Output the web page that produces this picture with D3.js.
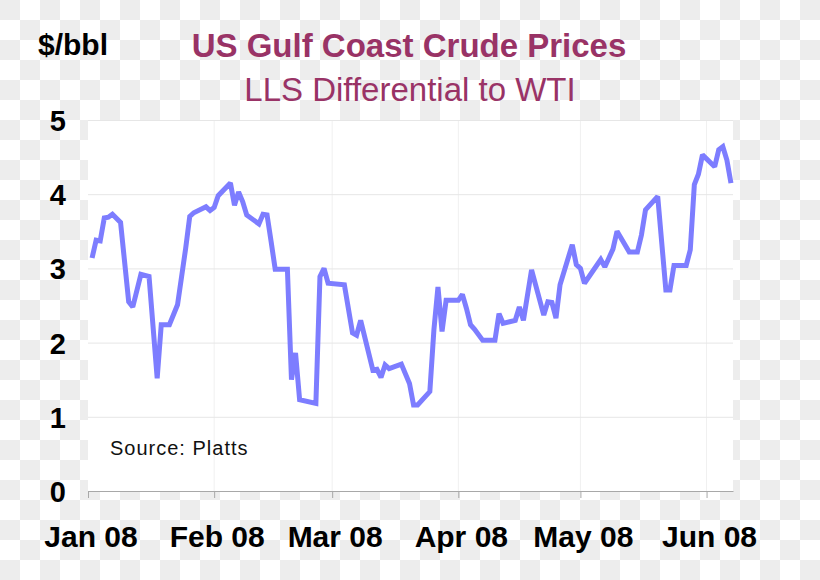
<!DOCTYPE html>
<html>
<head>
<meta charset="utf-8">
<script src="https://cdn.jsdelivr.net/npm/d3@7"></script>
<style>
  html, body { margin: 0; padding: 0; background: #fff; }
  svg { display: block; }
</style>
</head>
<body>
<svg id="chart" width="820" height="580"></svg>
<script>
// ---- data ----
const dates = [
  "2008-01-02","2008-01-03","2008-01-04","2008-01-05","2008-01-06","2008-01-07","2008-01-09","2008-01-11","2008-01-12","2008-01-14",
  "2008-01-16","2008-01-18","2008-01-19","2008-01-21","2008-01-23","2008-01-24","2008-01-25","2008-01-26","2008-01-27","2008-01-30",
  "2008-01-31","2008-02-01","2008-02-02","2008-02-05","2008-02-06","2008-02-07","2008-02-08","2008-02-09","2008-02-12","2008-02-13",
  "2008-02-14","2008-02-15","2008-02-16","2008-02-19","2008-02-20","2008-02-21","2008-02-22","2008-02-26","2008-02-27","2008-02-28",
  "2008-02-29","2008-03-04","2008-03-06","2008-03-07","2008-03-08","2008-03-11","2008-03-12","2008-03-13","2008-03-14","2008-03-15",
  "2008-03-18","2008-03-20","2008-03-21","2008-03-22","2008-03-25","2008-03-26","2008-03-27","2008-03-28","2008-03-29","2008-04-01",
  "2008-04-02","2008-04-03","2008-04-04","2008-04-05","2008-04-07","2008-04-10","2008-04-11","2008-04-12","2008-04-15","2008-04-16",
  "2008-04-17","2008-04-19","2008-04-22","2008-04-23","2008-04-24","2008-04-25","2008-04-26","2008-04-29","2008-04-30","2008-05-01",
  "2008-05-02","2008-05-06","2008-05-07","2008-05-09","2008-05-10","2008-05-13","2008-05-15","2008-05-16","2008-05-17","2008-05-20",
  "2008-05-22","2008-05-23","2008-05-24","2008-05-27","2008-05-28","2008-05-29","2008-05-30","2008-05-31","2008-06-03","2008-06-04",
  "2008-06-05","2008-06-06","2008-06-07"
];
const llsDiff = [
  3.14,3.38,3.37,3.68,3.69,3.73,3.62,2.55,2.48,2.92,
  2.89,1.52,2.24,2.24,2.51,2.89,3.27,3.70,3.75,3.83,
  3.78,3.82,3.98,4.15,3.85,4.03,3.90,3.72,3.60,3.73,
  3.72,3.36,2.99,2.99,1.50,1.86,1.23,1.18,2.89,3.00,
  2.80,2.78,2.13,2.10,2.30,1.63,1.64,1.53,1.70,1.65,
  1.71,1.45,1.16,1.16,1.34,2.17,2.75,2.15,2.57,2.57,
  2.65,2.46,2.24,2.18,2.03,2.03,2.39,2.26,2.30,2.48,
  2.30,2.98,2.37,2.55,2.54,2.33,2.78,3.32,3.05,3.00,
  2.80,3.12,3.02,3.26,3.50,3.22,3.22,3.45,3.79,3.97,
  2.71,2.71,3.04,3.04,3.25,4.13,4.27,4.53,4.37,4.60,
  4.64,4.46,4.15
];
const monthTicks = ["2008-01-01","2008-02-01","2008-03-01","2008-04-01","2008-05-01","2008-06-01"];
const monthLabels = ["Jan 08","Feb 08","Mar 08","Apr 08","May 08","Jun 08"];
const yTicks = [0,1,2,3,4,5];
const xDomain = ["2008-01-01T00:00","2008-06-07T12:00"];
const titleText = "US Gulf Coast Crude Prices";
const subtitleText = "LLS Differential to WTI";
const unitText = "$/bbl";
const sourceText = "Source: Platts";

// ---- drawing ----
(function () {
const parse = d3.isoParse;
const svg = d3.select("#chart");
const FONT = "'Liberation Sans', Arial, Helvetica, sans-serif";

// checkerboard backdrop
const defs = svg.append("defs");
const pat = defs.append("pattern").attr("id","checker")
  .attr("width",40).attr("height",40).attr("patternUnits","userSpaceOnUse");
pat.append("rect").attr("width",40).attr("height",40).attr("fill","#ffffff");
pat.append("rect").attr("x",0).attr("y",0).attr("width",20).attr("height",20).attr("fill","#ededed");
pat.append("rect").attr("x",20).attr("y",20).attr("width",20).attr("height",20).attr("fill","#ededed");
svg.append("rect").attr("width",820).attr("height",580).attr("fill","url(#checker)");

const pL = 88, pR = 733, pT = 120, pB = 491;
const x = d3.scaleTime().domain(xDomain.map(parse)).range([pL, pR]);
const y = d3.scaleLinear().domain([0,5]).range([pB, pT]);

// plot area
svg.append("rect").attr("x",pL).attr("y",pT).attr("width",pR-pL).attr("height",pB-pT)
  .attr("fill","#ffffff");

// vertical gridlines
svg.append("g").selectAll("line").data(monthTicks.slice(1)).join("line")
  .attr("x1",d=>x(parse(d))).attr("x2",d=>x(parse(d)))
  .attr("y1",pT).attr("y2",pB)
  .attr("stroke","#f0f0f0").attr("stroke-width",1);

// horizontal gridlines
svg.append("g").selectAll("line").data(yTicks.slice(1)).join("line")
  .attr("x1",pL).attr("x2",pR)
  .attr("y1",d=>y(d)+0.5).attr("y2",d=>y(d)+0.5)
  .attr("stroke","#e6e6e6").attr("stroke-width",1);

// x axis
const xAxis = d3.axisBottom(x)
  .tickValues(monthTicks.map(parse))
  .tickSize(7).tickSizeOuter(0).tickFormat("");
const gx = svg.append("g").attr("transform",`translate(0,${pB})`).call(xAxis);
gx.select(".domain").attr("stroke","#a8a8a8");
gx.selectAll(".tick line").attr("stroke","#a8a8a8");

// x labels
svg.append("g").selectAll("text").data(monthTicks).join("text")
  .attr("x",d=>x(parse(d))+3).attr("y",547)
  .attr("text-anchor","middle")
  .attr("font-family",FONT).attr("font-weight","bold").attr("font-size",30)
  .attr("fill","#000")
  .text((d,i)=>monthLabels[i]);

// y labels
svg.append("g").selectAll("text").data(yTicks).join("text")
  .attr("x",66).attr("y",d=>y(d)+11)
  .attr("text-anchor","end")
  .attr("font-family",FONT).attr("font-weight","bold").attr("font-size",29)
  .attr("fill","#000")
  .text(d=>d);

// line
const series = dates.map((d,i)=>({date:parse(d), value:llsDiff[i]}));
const line = d3.line().x(d=>x(d.date)).y(d=>y(d.value));
svg.append("path").datum(series)
  .attr("d",line)
  .attr("fill","none")
  .attr("stroke","#7d7dff")
  .attr("stroke-width",5)
  .attr("stroke-linejoin","miter")
  .attr("stroke-miterlimit",2);

// titles
svg.append("text").attr("x",409).attr("y",57).attr("text-anchor","middle")
  .attr("font-family",FONT).attr("font-weight","bold").attr("font-size",33)
  .attr("fill","#993366").text(titleText);
svg.append("text").attr("x",410).attr("y",101).attr("text-anchor","middle")
  .attr("font-family",FONT).attr("font-size",33)
  .attr("fill","#993366").text(subtitleText);
svg.append("text").attr("x",38).attr("y",55)
  .attr("font-family",FONT).attr("font-weight","bold").attr("font-size",30)
  .attr("fill","#000").text(unitText);

// source
svg.append("text").attr("x",110).attr("y",455)
  .attr("font-family",FONT).attr("font-size",20).attr("letter-spacing",1)
  .attr("fill","#111").text(sourceText);
})();
</script>
</body>
</html>
